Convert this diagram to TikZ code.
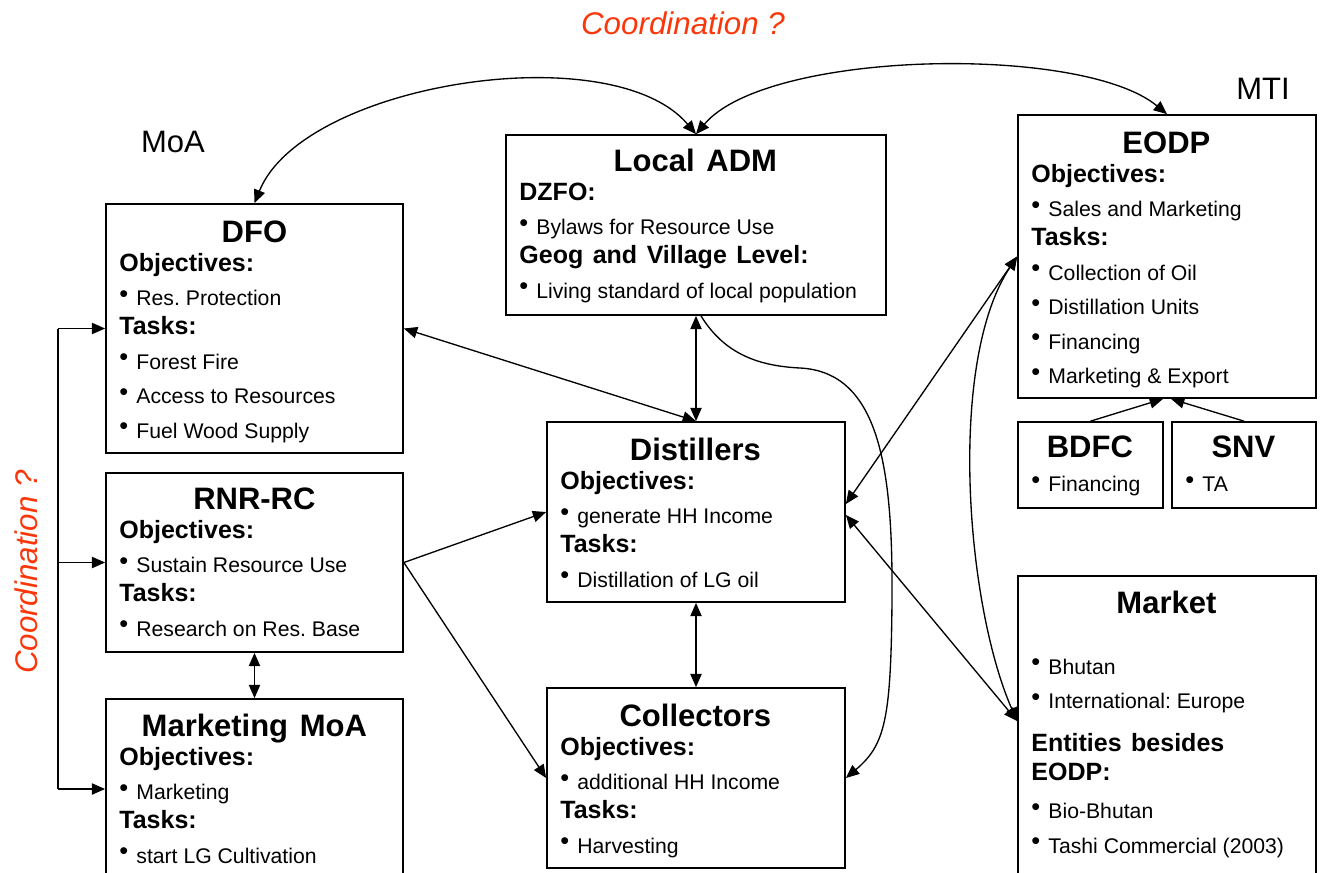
\documentclass[tikz,border=0pt]{standalone}
\usepackage{fontspec}
\setmainfont{Liberation Sans}
\usetikzlibrary{arrows.meta,calc}
\definecolor{coordred}{RGB}{250,55,10}
\frenchspacing
\newcommand{\ttlfont}{\fontsize{23.25pt}{26pt}\selectfont\bfseries\spaceskip=0.38em\relax}
\newcommand{\hdfont}{\fontsize{18.75pt}{21.75pt}\selectfont\bfseries\spaceskip=0.38em\relax}
\newcommand{\itfont}{\fontsize{15.9pt}{25.9pt}\selectfont\mdseries\spaceskip=0pt\relax}
\newcommand{\ttl}[1]{\ttlfont\makebox[\linewidth]{#1}\par}
\newcommand{\hd}[1]{\hdfont #1\par}
\newcommand{\itm}[1]{\itfont\makebox[12.75pt][l]{\raisebox{2.5pt}{\fontsize{19pt}{0pt}\selectfont\textbullet}}#1\par}
\begin{document}
\begin{tikzpicture}[x=0.75pt, y=-0.75pt, >={Triangle[length=10pt,width=8.5pt]},
  box/.style={draw, line width=1.3pt, inner sep=0pt},
  txt/.style={anchor=base west, inner sep=0pt, align=left},
  lbl/.style={inner sep=0pt, font=\fontsize{23.25pt}{28pt}\selectfont},
  coordlbl/.style={lbl, text=coordred, font=\fontsize{23.5pt}{28pt}\selectfont\itshape},
  link/.style={line width=1pt}]
\clip (0,0) rectangle (1321,872);
\node[box, minimum width=222.75pt, minimum height=186.75pt] (dfo) at (254.5,328.5) {};
\node[txt, text width=202.5pt] (dfo-t) at ($(dfo.north west)+(14,39)$) {\ttl{DFO}\hd{Objectives:}\itm{Res. Protection}\hd{Tasks:}\itm{Forest Fire}\itm{Access to Resources}\itm{Fuel Wood Supply}};
\node[box, minimum width=222.75pt, minimum height=134.25pt] (rnr) at (254.5,562.5) {};
\node[txt, text width=202.5pt] (rnr-t) at ($(rnr.north west)+(14,37)$) {\ttl{RNR-RC}\hd{Objectives:}\itm{Sustain Resource Use}\hd{Tasks:}\itm{Research on Res. Base}};
\node[box, minimum width=222.75pt, minimum height=135pt] (mmoa) at (254.5,789) {};
\node[txt, text width=202.5pt] (mmoa-t) at ($(mmoa.north west)+(14,38)$) {\ttl{Marketing MoA}\hd{Objectives:}\itm{Marketing}\hd{Tasks:}\itm{start LG Cultivation}};
\node[box, minimum width=285pt, minimum height=135pt] (ladm) at (696,225) {};
\node[txt, text width=264pt] (ladm-t) at ($(ladm.north west)+(14,37)$) {\ttl{Local ADM}\hd{DZFO:}\itm{Bylaws for Resource Use}\hd{Geog and Village Level:}\itm{Living standard of local population}};
\node[box, minimum width=223.5pt, minimum height=135pt] (dist) at (696,512) {};
\node[txt, text width=202.5pt] (dist-t) at ($(dist.north west)+(14,39)$) {\ttl{Distillers}\hd{Objectives:}\itm{generate HH Income}\hd{Tasks:}\itm{Distillation of LG oil}};
\node[box, minimum width=223.5pt, minimum height=135pt] (coll) at (696,778) {};
\node[txt, text width=202.5pt] (coll-t) at ($(coll.north west)+(14,39)$) {\ttl{Collectors}\hd{Objectives:}\itm{additional HH Income}\hd{Tasks:}\itm{Harvesting}};
\node[box, minimum width=223.5pt, minimum height=212.25pt] (eodp) at (1167,256.5) {};
\node[txt, text width=202.5pt] (eodp-t) at ($(eodp.north west)+(14,39)$) {\ttl{EODP}\hd{Objectives:}\itm{Sales and Marketing}\hd{Tasks:}\itm{Collection of Oil}\itm{Distillation Units}\itm{Financing}\itm{Marketing \& Export}};
\node[box, minimum width=108.75pt, minimum height=64.5pt] (bdfc) at (1090.5,465) {};
\node[txt, text width=87.75pt] (bdfc-t) at ($(bdfc.north west)+(14,36)$) {\ttl{BDFC}\itm{Financing}};
\node[box, minimum width=108pt, minimum height=64.5pt] (snv) at (1244,465) {};
\node[txt, text width=87pt] (snv-t) at ($(snv.north west)+(14,36)$) {\ttl{SNV}\itm{TA}};
\node[box, minimum width=223.5pt, minimum height=243pt] (market) at (1167,738) {};
\node[txt, text width=202.5pt] (market-t) at ($(market.north west)+(14,38)$) {\ttl{Market}\vspace{19.9pt}\itm{Bhutan}\itm{International: Europe}\vspace{10.5pt}\hd{Entities besides}\hd{EODP:}\vspace{2.5pt}\itm{Bio-Bhutan}\itm{Tashi Commercial (2003)}};
\node[lbl, anchor=base] (moa) at (173,152) {MoA};
\node[lbl, anchor=base] (mti) at (1263,99) {MTI};
\node[coordlbl, anchor=base] (coord-top) at (683,34) {Coordination ?};
\node[coordlbl, anchor=base, rotate=90] (coord-left) at (37,572) {Coordination ?};
\coordinate (c-top) at (58,328.5);
\coordinate (c-mid) at (58,562.5);
\coordinate (c-bot) at (58,789);
\coordinate (mk-in) at ($(market.west)+(0,-17)$);
\draw[link] (c-top) -- (c-bot);
\draw[link,->] (c-top) -- (dfo.west);
\draw[link,->] (c-mid) -- (rnr.west);
\draw[link,->] (c-bot) -- (mmoa.west);
\draw[link,<->] (dfo.north) .. controls (303,83) and (612,35) .. (ladm.north);
\draw[link,<->] (ladm.north) .. controls (767,50) and (1082,44) .. (eodp.north);
\draw[link,<->] (ladm.south) -- (dist.north);
\draw[link,<->] (dist.south) -- (coll.north);
\draw[link,<->] (rnr.south) -- (mmoa.north);
\draw[link,<->] (dfo.east) -- (dist.north);
\draw[link,->] (rnr.east) -- (dist.west);
\draw[link,->] (rnr.east) -- (coll.west);
\draw[link,->] ($(ladm.south)+(5,0)$) .. controls (725,355) and (760,366) .. (800,368) .. controls (880,372) and (893,470) .. (892,600) .. controls (891,720) and (885,745) .. (coll.east);
\draw[link,<->] ($(dist.east)+(0,-8)$) -- (eodp.west);
\draw[link,<->] ($(dist.east)+(0,3)$) -- (mk-in);
\draw[link,<->] (eodp.west) .. controls (947,362) and (966,605) .. (mk-in);
\draw[link,->] (bdfc.north) -- ($(eodp.south)+(-4,0)$);
\draw[link,->] (snv.north) -- ($(eodp.south)+(4,0)$);
\end{tikzpicture}
\end{document}
